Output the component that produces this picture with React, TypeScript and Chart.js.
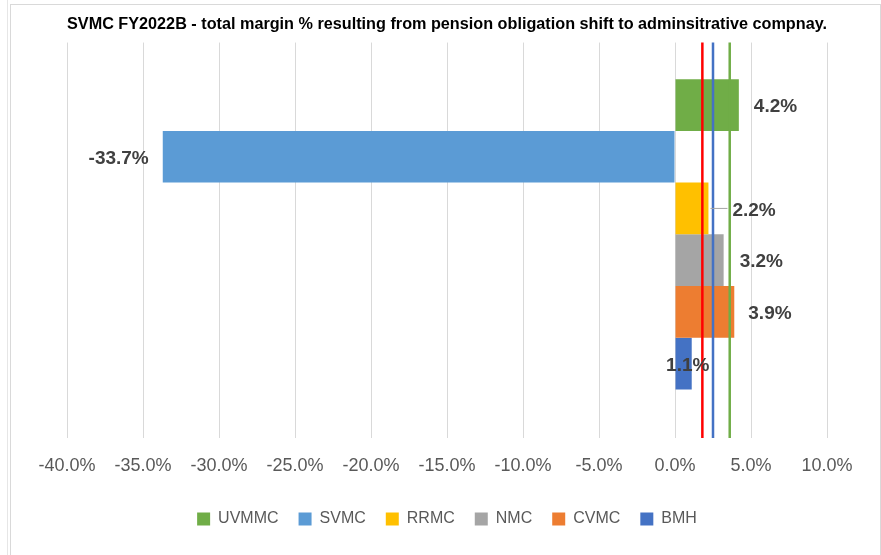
import React, { useEffect, useRef } from 'react';
import { Chart, registerables } from 'chart.js';

Chart.register(...registerables);

// ---- data ----
const chartTitle =
  'SVMC FY2022B - total margin % resulting from pension obligation shift to adminsitrative compnay.';
const categories = ['UVMMC', 'SVMC', 'RRMC', 'NMC', 'CVMC', 'BMH'];
const marginPct = [4.2, -33.7, 2.2, 3.2, 3.9, 1.1];
const refLineValues = [1.8, 2.5, 3.6];
const xMin = -40;
const xMax = 10;
const xStep = 5;

// ---- styles ----
const barColors = ['#70AD47', '#5B9BD5', '#FFC000', '#A5A5A5', '#ED7D31', '#4472C4'];
const refLineColors = ['#FF0000', '#4472C4', '#70AD47'];
const FONT = '"Liberation Sans", Arial, sans-serif';
const labelPlacement: { dx: number; align: CanvasTextAlign; leader?: boolean }[] = [
  { dx: 15, align: 'left' },
  { dx: -14, align: 'right' },
  { dx: 24, align: 'left', leader: true },
  { dx: 16, align: 'left' },
  { dx: 14, align: 'left' },
  { dx: -4, align: 'center' },
];
const CATEGORY_BOTTOM_INSET = 12;

// shifts the bar band slightly upwards inside the plot, as in the original
const categoryInset = {
  id: 'categoryInset',
  afterLayout(chart: any) {
    const y = chart.scales.y;
    if (!y) return;
    y.bottom -= CATEGORY_BOTTOM_INSET;
    y.configure();
  },
};

const valueLabels = {
  id: 'valueLabels',
  afterDatasetsDraw(chart: any) {
    const ctx = chart.ctx;
    ctx.save();
    ctx.font = `bold 19px ${FONT}`;
    ctx.fillStyle = '#404040';
    ctx.textBaseline = 'middle';
    categories.forEach((_, i) => {
      const meta = chart.getDatasetMeta(i);
      const el = meta && meta.data[0];
      if (!el) return;
      const p = labelPlacement[i];
      const x = el.x + p.dx;
      const y = el.y + 2;
      if (p.leader) {
        ctx.strokeStyle = '#A6A6A6';
        ctx.lineWidth = 1;
        ctx.beginPath();
        ctx.moveTo(el.x + 2, el.y);
        ctx.lineTo(x - 5, el.y);
        ctx.stroke();
      }
      ctx.textAlign = p.align;
      ctx.fillText(marginPct[i].toFixed(1) + '%', x, y);
    });
    ctx.restore();
  },
};

export default function App() {
  const canvasRef = useRef<HTMLCanvasElement | null>(null);

  useEffect(() => {
    if (!canvasRef.current) return;
    const barSets = categories.map((name, i) => ({
      type: 'bar' as const,
      indexAxis: 'y' as const,
      label: name,
      data: [marginPct[i]],
      backgroundColor: barColors[i],
      borderWidth: 0,
      barPercentage: 1,
      categoryPercentage: 0.809,
      xAxisID: 'x',
      yAxisID: 'y',
      order: 0,
    }));
    const lineSets = refLineValues.map((v, i) => ({
      type: 'line' as const,
      label: 'ref' + i,
      data: [
        { x: v, y: 0 },
        { x: v, y: 1 },
      ],
      borderColor: refLineColors[i],
      borderWidth: 2.5,
      pointRadius: 0,
      fill: false,
      clip: false,
      xAxisID: 'x',
      yAxisID: 'yLine',
      order: -1,
    }));

    const chart = new Chart(canvasRef.current, {
      type: 'bar',
      data: { labels: [''], datasets: [...barSets, ...lineSets] as any },
      options: {
        animation: false,
        responsive: false,
        devicePixelRatio: 1,
        layout: { padding: { left: 67, right: 54, top: 0, bottom: 18 } },
        scales: {
          x: {
            type: 'linear',
            min: xMin,
            max: xMax,
            offset: false,
            ticks: {
              stepSize: xStep,
              autoSkip: false,
              maxRotation: 0,
              color: '#595959',
              font: { size: 18, family: FONT },
              padding: 17,
              callback: (v: any) => Number(v).toFixed(1) + '%',
            },
            grid: { color: '#D9D9D9', drawTicks: false, lineWidth: 1, offset: false },
            border: { display: false },
            afterFit: (s: any) => {
              s.height = 53;
            },
          },
          y: {
            type: 'category',
            labels: [''],
            display: false,
            offset: true,
            grid: { offset: true },
          },
          yLine: { type: 'linear', display: false, min: 0, max: 1, offset: false },
        } as any,
        plugins: {
          title: {
            display: true,
            text: chartTitle,
            color: '#000000',
            font: { size: 16.3, weight: 'bold', family: FONT },
            padding: { top: 15, bottom: 8 },
          },
          legend: {
            position: 'bottom',
            labels: {
              boxWidth: 13,
              boxHeight: 13,
              padding: 20,
              color: '#595959',
              font: { size: 16, family: FONT },
              filter: (item: any) => item.datasetIndex < categories.length,
            },
          },
          tooltip: { enabled: false },
        },
      },
      plugins: [categoryInset, valueLabels],
    });
    return () => chart.destroy();
  }, []);

  return (
    <div
      style={{
        position: 'absolute',
        left: 0,
        top: 0,
        width: 881,
        height: 555,
        background: '#ffffff',
        overflow: 'hidden',
      }}
    >
      <div
        style={{
          position: 'absolute',
          left: 7,
          top: 0,
          width: 1,
          height: 555,
          background: '#E6E6E6',
        }}
      />
      <div
        style={{
          position: 'absolute',
          left: 10,
          top: 4,
          width: 871,
          height: 560,
          boxSizing: 'border-box',
          border: '1px solid #D9D9D9',
        }}
      />
      <canvas
        ref={canvasRef}
        width={881}
        height={555}
        style={{ position: 'absolute', left: 0, top: 0, width: 881, height: 555 }}
      />
    </div>
  );
}
